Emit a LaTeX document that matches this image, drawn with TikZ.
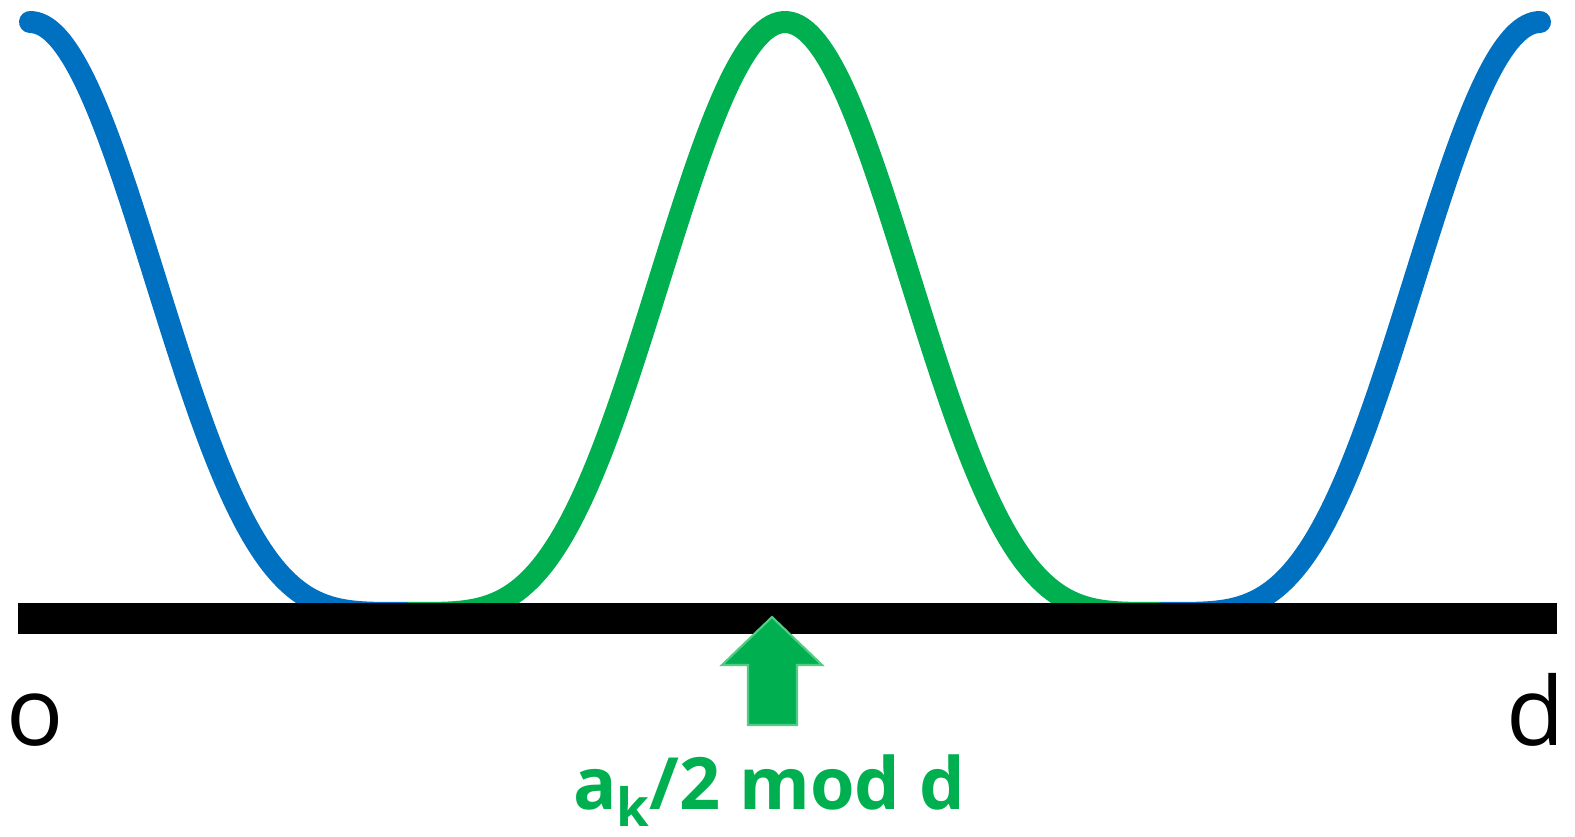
\documentclass[tikz,border=0pt]{standalone}
\usepackage{fontspec}
\setmainfont{Open Sans}
\usepackage{tikz}
\definecolor{WaveBlue}{RGB}{0,112,192}
\definecolor{WaveGreen}{RGB}{0,176,80}
\definecolor{EdgeGreen}{RGB}{80,205,130}
\tikzset{
  wave/.style      ={line width=0.22cm, line cap=round, line join=round},
  wblue/.style     ={wave, draw=WaveBlue},
  wgreen/.style    ={wave, draw=WaveGreen, line cap=butt},
  axisbar/.style   ={line width=0.31cm, draw=black},
  blockarr/.style  ={fill=WaveGreen, draw=EdgeGreen, line width=0.6pt, line join=miter},
  endlab/.style    ={font=\fontsize{27}{30}\selectfont, anchor=base, inner sep=0pt},
  modlab/.style    ={font=\fontsize{20.5}{24}\selectfont\bfseries, text=WaveGreen, anchor=base, inner sep=0pt},
  declare function={hc(\t)=(1+cos((\t-30)*0.476821))/2; wavey(\t)=613-591*hc(\t)*hc(\t);},
}
\begin{document}
\begin{tikzpicture}[x=0.01cm,y=-0.01cm]
  \useasboundingbox (0,0) rectangle (1575,837);

  % the wave, blue at both ends and green in the middle
  \draw[wblue]  plot[domain=30:407.5,samples=120] (\x,{wavey(\x)});
  \draw[wgreen] plot[domain=407.5:1162.5,samples=200] (\x,{wavey(\x)});
  \draw[wblue]  plot[domain=1162.5:1540,samples=120] (\x,{wavey(\x)});

  % the axis from 0 to d
  \coordinate (ax0) at (18,618.5);
  \coordinate (ax1) at (1557,618.5);
  \draw[axisbar] (ax0) -- (ax1);

  \node[endlab] (zero) at (35,745) {o};
  \node[endlab] (dend) at (1536,745) {d};

  % marker for the shift
  \draw[blockarr] (772,617) -- (822,665) -- (797,665) -- (797,725)
    -- (748,725) -- (748,665) -- (722,665) -- cycle;
  \node[modlab] (shift) at (769,810)
    {a\raisebox{-0.16cm}{\fontsize{15}{16}\selectfont k}/2 mod d};
\end{tikzpicture}
\end{document}
